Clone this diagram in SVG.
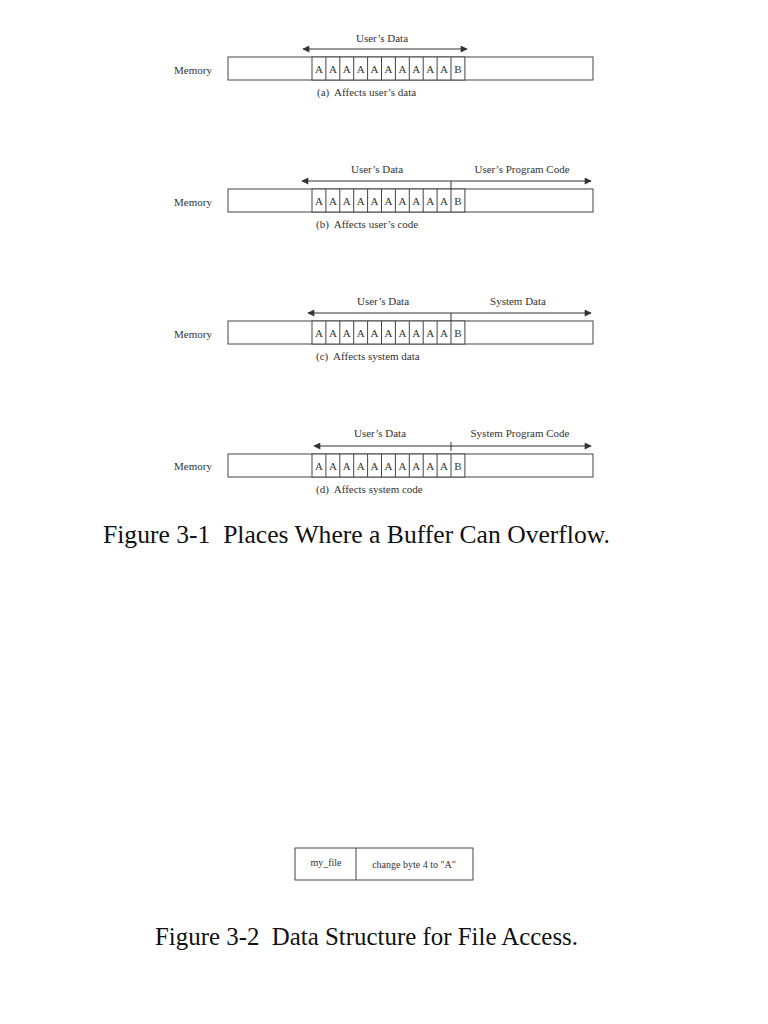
<svg xmlns="http://www.w3.org/2000/svg" width="768" height="1024" viewBox="0 0 768 1024">
<defs>
<marker id="ah" viewBox="0 0 10 10" refX="9" refY="5" markerWidth="8" markerHeight="7" orient="auto-start-reverse" markerUnits="userSpaceOnUse"><path d="M0,0 L10,5 L0,10 Z" fill="#333"/></marker>
<g id="cells">
<rect x="312" y="0" width="152.9" height="23"/>
<path d="M325.9,0v23M339.8,0v23M353.7,0v23M367.6,0v23M381.5,0v23M395.4,0v23M409.3,0v23M423.2,0v23M437.1,0v23M451,0v23"/>
<g class="cl">
<text x="319" y="16">A</text><text x="332.9" y="16">A</text><text x="346.8" y="16">A</text><text x="360.7" y="16">A</text><text x="374.6" y="16">A</text><text x="388.5" y="16">A</text><text x="402.4" y="16">A</text><text x="416.3" y="16">A</text><text x="430.2" y="16">A</text><text x="444.1" y="16">A</text><text x="458" y="16">B</text>
</g>
</g>
</defs>
<style>
text{font-family:"Liberation Serif","Times New Roman",serif;fill:#333;white-space:pre;}
.s{font-size:11px;}
.cl text{font-size:11px;text-anchor:middle;stroke:none;}
.m{fill:#fff;stroke:#444;stroke-width:1;}
.m path{fill:none;}
.arr{stroke:#333;stroke-width:1.2;fill:none;}
.tick{stroke:#333;stroke-width:1;}
.big{font-size:25px;fill:#111;}
.f{font-size:10px;}
</style>
<rect width="768" height="1024" fill="#fff"/>

<g id="panel-a">
<text class="s" x="174" y="74">Memory</text>
<rect class="m" x="228" y="57" width="365" height="23"/>
<use href="#cells" class="m" y="57"/>
<text class="s" x="382" y="42" text-anchor="middle">User’s Data</text>
<text class="s" x="317" y="96" xml:space="preserve">(a)  Affects user’s data</text>
</g>

<g id="panel-b">
<text class="s" x="174" y="206">Memory</text>
<rect class="m" x="228" y="189" width="365" height="23"/>
<use href="#cells" class="m" y="189"/>
<text class="s" x="377" y="173" text-anchor="middle">User’s Data</text>
<text class="s" x="522" y="173" text-anchor="middle">User’s Program Code</text>
<text class="s" x="316" y="228" xml:space="preserve">(b)  Affects user’s code</text>
</g>

<g id="panel-c">
<text class="s" x="174" y="338">Memory</text>
<rect class="m" x="228" y="321" width="365" height="23"/>
<use href="#cells" class="m" y="321"/>
<text class="s" x="383" y="305" text-anchor="middle">User’s Data</text>
<text class="s" x="518" y="305" text-anchor="middle">System Data</text>
<text class="s" x="316" y="360" xml:space="preserve">(c)  Affects system data</text>
</g>

<g id="panel-d">
<text class="s" x="174" y="470">Memory</text>
<rect class="m" x="228" y="454" width="365" height="23"/>
<use href="#cells" class="m" y="454"/>
<text class="s" x="380" y="437" text-anchor="middle">User’s Data</text>
<text class="s" x="520" y="437" text-anchor="middle">System Program Code</text>
<text class="s" x="316" y="493" xml:space="preserve">(d)  Affects system code</text>
</g>

<g id="connectors">
<line class="arr" x1="303" y1="49" x2="467" y2="49" marker-start="url(#ah)" marker-end="url(#ah)"/>
<line class="arr" x1="302" y1="181" x2="591" y2="181" marker-start="url(#ah)" marker-end="url(#ah)"/>
<line class="tick" x1="451" y1="181" x2="451" y2="189"/>
<line class="arr" x1="308" y1="313" x2="591" y2="313" marker-start="url(#ah)" marker-end="url(#ah)"/>
<line class="tick" x1="451" y1="313" x2="451" y2="321"/>
<line class="arr" x1="314" y1="446" x2="591" y2="446" marker-start="url(#ah)" marker-end="url(#ah)"/>
<line class="tick" x1="451" y1="442" x2="451" y2="451"/>
</g>

<text class="big" x="103" y="543" xml:space="preserve" textLength="507" lengthAdjust="spacingAndGlyphs">Figure 3-1  Places Where a Buffer Can Overflow.</text>

<g id="file-struct">
<rect x="295" y="848" width="178" height="32" fill="#fff" stroke="#444" stroke-width="1"/>
<line x1="356" y1="848" x2="356" y2="880" stroke="#444" stroke-width="1"/>
<text class="f" x="326" y="866" text-anchor="middle">my_file</text>
<text class="f" x="414" y="868" text-anchor="middle">change byte 4 to "A"</text>
</g>

<text class="big" x="155" y="945" xml:space="preserve" textLength="423" lengthAdjust="spacingAndGlyphs">Figure 3-2  Data Structure for File Access.</text>
</svg>
